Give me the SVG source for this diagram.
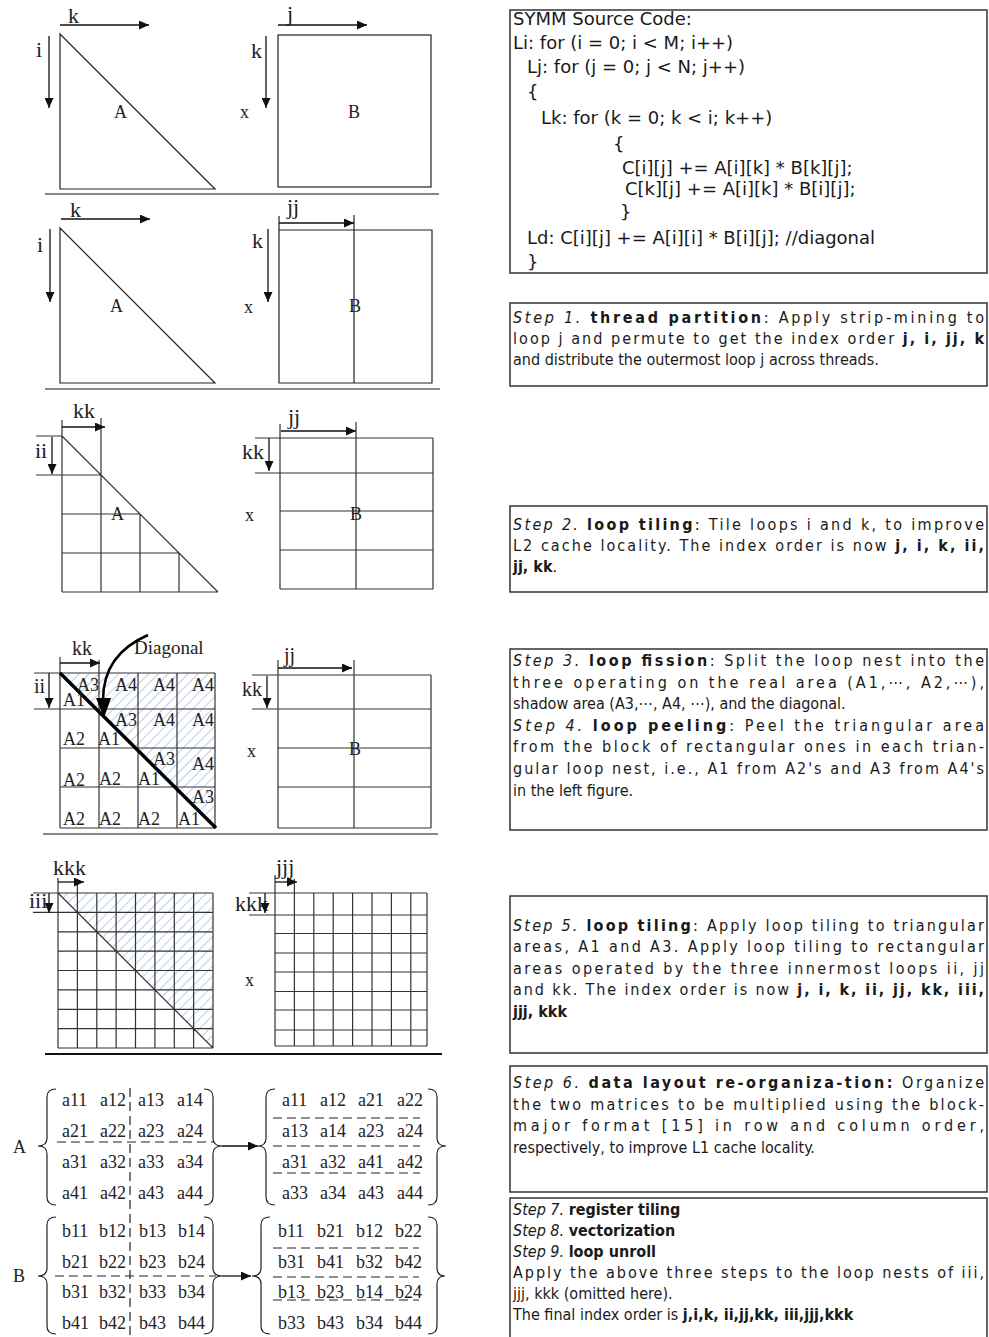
<svg xmlns="http://www.w3.org/2000/svg" width="989" height="1337" viewBox="0 0 989 1337">
<defs>
<style>
.s{font-family:"Liberation Serif","Times New Roman",serif;fill:#222}
.ax{font-size:22px}
.lb{font-size:18px}
.m{font-size:18px}
.ln{fill:none;stroke:#222;stroke-width:1.2}
.gl{fill:none;stroke:#333;stroke-width:1.2}
.sep{stroke:#888;stroke-width:2}
.ar{fill:none;stroke:#111;stroke-width:1.3}
.dash{fill:none;stroke:#222;stroke-width:1.2;stroke-dasharray:9 5}
.br{fill:none;stroke:#222;stroke-width:1.2}
.box{fill:#fff;stroke:#333;stroke-width:1.5}
.t{font-family:"DejaVu Sans Condensed","DejaVu Sans",sans-serif;font-size:16px;fill:#1a1a1a}
.c{font-family:"DejaVu Sans","Verdana",sans-serif;font-size:18px;fill:#1a1a1a}
.i{font-style:italic}
.b{font-weight:bold}
</style>
<marker id="ah" viewBox="0 0 10 9" refX="10" refY="4.5" markerWidth="10" markerHeight="9" markerUnits="userSpaceOnUse" orient="auto"><path d="M0,0 L10,4.5 L0,9 z" fill="#111"/></marker>
<pattern id="hatch" patternUnits="userSpaceOnUse" width="7" height="7" patternTransform="rotate(45)"><line x1="0" y1="0" x2="0" y2="7" stroke="#aac2e6" stroke-width="1.6"/></pattern>
</defs>
<rect width="989" height="1337" fill="#fff"/>

<!-- Panel 1 -->
<g id="p1">
<polygon class="ln" points="60,34 60,189 215,189"/>
<rect class="ln" x="278" y="35" width="153" height="152"/>
<text class="s ax" x="68" y="23">k</text>
<text class="s ax" x="36" y="57">i</text>
<text class="s ax" x="287" y="21">j</text>
<text class="s ax" x="251" y="58">k</text>
<text class="s lb" x="114" y="118">A</text>
<text class="s lb" x="240" y="118">x</text>
<text class="s lb" x="348" y="118">B</text>
</g>
<line class="sep" x1="45" y1="194" x2="439" y2="194"/>

<!-- Panel 2 -->
<g id="p2">
<polygon class="ln" points="60,228 60,383 215,383"/>
<path class="ln" d="M279,216V383H432V230H279 M354,215V383"/>
<text class="s ax" x="70" y="217">k</text>
<text class="s ax" x="37" y="252">i</text>
<text class="s ax" x="287" y="214">jj</text>
<text class="s ax" x="252" y="248">k</text>
<text class="s lb" x="110" y="312">A</text>
<text class="s lb" x="244" y="313">x</text>
<text class="s lb" x="349" y="312">B</text>
</g>
<line class="sep" x1="45" y1="389" x2="440" y2="389"/>

<!-- Panel 3 -->
<g id="p3">
<path class="gl" d="M62,420V592 M101,418V592 M140,514V592 M179,553V592 M36,436H62 M36,475H101 M62,514H140 M62,553H179 M62,592H218 M62,436L218,592"/>
<path class="gl" d="M280,424V589 M356,422V589 M433,438V589 M255,438H433 M255,473H433 M280,511H433 M280,550H433 M280,589H433"/>
<text class="s ax" x="73" y="418">kk</text>
<text class="s ax" x="35" y="458">ii</text>
<text class="s ax" x="288" y="424">jj</text>
<text class="s ax" x="242" y="459">kk</text>
<text class="s lb" x="111" y="520">A</text>
<text class="s lb" x="245" y="521">x</text>
<text class="s lb" x="350" y="520">B</text>
</g>

<!-- Panel 4 -->
<g id="p4">
<polygon points="60,673 215,673 215,828" fill="url(#hatch)"/>
<path class="gl" d="M60,657V828 M99,660V828 M138,673V828 M177,673V828 M215,673V828 M34,673H215 M34,709H215 M60,748H215 M60,787H215 M60,828H215"/>
<line x1="60" y1="673" x2="216" y2="828" stroke="#000" stroke-width="3.5"/>
<path class="gl" d="M278,660V828 M354,660V828 M431,675V828 M252,675H431 M252,709H431 M278,748H431 M278,787H431 M278,828H431"/>
<text class="s" font-size="20" x="72" y="655">kk</text>
<text class="s" font-size="20" x="34" y="693">ii</text>
<text class="s" font-size="19" x="134" y="654">Diagonal</text>
<text class="s" font-size="20" x="284" y="662">jj</text>
<text class="s" font-size="20" x="242" y="696">kk</text>
<text class="s lb" x="247" y="757">x</text>
<text class="s lb" x="349" y="755">B</text>
<g class="s lb">
<text x="77" y="691">A3</text><text x="63" y="706">A1</text><text x="115" y="691">A4</text><text x="153" y="691">A4</text><text x="192" y="691">A4</text>
<text x="115" y="726">A3</text><text x="153" y="726">A4</text><text x="192" y="726">A4</text><text x="63" y="745">A2</text><text x="98" y="745">A1</text>
<text x="153" y="765">A3</text><text x="192" y="770">A4</text><text x="63" y="786">A2</text><text x="99" y="785">A2</text><text x="138" y="785">A1</text>
<text x="192" y="803">A3</text><text x="63" y="825">A2</text><text x="99" y="825">A2</text><text x="138" y="825">A2</text><text x="178" y="825">A1</text>
</g>
</g>
<line class="sep" x1="43" y1="834" x2="438" y2="834"/>

<!-- Panel 5 -->
<g id="p5">
<polygon points="58,893 213,893 213,1048" fill="url(#hatch)"/>
<path class="gl" d="M58,878V1048 M77.4,880V1048 M96.8,893V1048 M116.1,893V1048 M135.5,893V1048 M154.9,893V1048 M174.3,893V1048 M193.6,893V1048 M213,893V1048 M33,893H213 M33,912.4H213 M58,931.8H213 M58,951.1H213 M58,970.5H213 M58,989.9H213 M58,1009.3H213 M58,1028.6H213 M58,1048H213 M58,893L213,1048"/>
<path class="gl" d="M275,875V1046 M294.4,879V1046 M313.8,893V1046 M333.2,893V1046 M352.6,893V1046 M372,893V1046 M391.4,893V1046 M410.8,893V1046 M427,893V1046 M249,893H427 M249,915H427 M275,933.5H427 M275,953H427 M275,972H427 M275,991.5H427 M275,1010H427 M275,1030H427 M275,1046H427"/>
<text class="s ax" x="53" y="875">kkk</text>
<text class="s ax" x="29" y="908">iii</text>
<text class="s ax" x="276" y="874">jjj</text>
<text class="s ax" x="235" y="911">kkk</text>
<text class="s lb" x="245" y="986">x</text>
</g>
<line x1="45" y1="1054" x2="442" y2="1054" stroke="#111" stroke-width="2"/>

<!-- Matrix A -->
<g id="matA">
<text class="s m" x="13" y="1153">A</text>
<path class="br" d="M56,1089 Q47,1089 47,1097 L47,1138 Q47,1146 38,1146 Q47,1146 47,1154 L47,1197 Q47,1205 56,1205"/>
<path class="br" d="M204,1089 Q213,1089 213,1097 L213,1138 Q213,1146 222,1146 Q213,1146 213,1154 L213,1197 Q213,1205 204,1205"/>
<path class="br" d="M275,1089 Q266,1089 266,1097 L266,1138 Q266,1146 258,1146 Q266,1146 266,1154 L266,1197 Q266,1205 275,1205"/>
<path class="br" d="M428,1089 Q437,1089 437,1097 L437,1138 Q437,1146 446,1146 Q437,1146 437,1154 L437,1197 Q437,1205 428,1205"/>
<path class="dash" d="M57,1142H213 M273,1118H420 M273,1146H420 M273,1173H420"/>
<g class="s m">
<text x="62" y="1106">a11</text><text x="100" y="1106">a12</text><text x="138" y="1106">a13</text><text x="177" y="1106">a14</text>
<text x="62" y="1137">a21</text><text x="100" y="1137">a22</text><text x="138" y="1137">a23</text><text x="177" y="1137">a24</text>
<text x="62" y="1168">a31</text><text x="100" y="1168">a32</text><text x="138" y="1168">a33</text><text x="177" y="1168">a34</text>
<text x="62" y="1199">a41</text><text x="100" y="1199">a42</text><text x="138" y="1199">a43</text><text x="177" y="1199">a44</text>
<text x="282" y="1106">a11</text><text x="320" y="1106">a12</text><text x="358" y="1106">a21</text><text x="397" y="1106">a22</text>
<text x="282" y="1137">a13</text><text x="320" y="1137">a14</text><text x="358" y="1137">a23</text><text x="397" y="1137">a24</text>
<text x="282" y="1168">a31</text><text x="320" y="1168">a32</text><text x="358" y="1168">a41</text><text x="397" y="1168">a42</text>
<text x="282" y="1199">a33</text><text x="320" y="1199">a34</text><text x="358" y="1199">a43</text><text x="397" y="1199">a44</text>
</g>
</g>

<!-- Matrix B -->
<g id="matB">
<text class="s m" x="13" y="1282">B</text>
<path class="br" d="M56,1217 Q47,1217 47,1225 L47,1268 Q47,1276 38,1276 Q47,1276 47,1284 L47,1326 Q47,1334 56,1334"/>
<path class="br" d="M204,1217 Q213,1217 213,1225 L213,1268 Q213,1276 222,1276 Q213,1276 213,1284 L213,1326 Q213,1334 204,1334"/>
<path class="br" d="M270,1217 Q261,1217 261,1225 L261,1268 Q261,1276 252,1276 Q261,1276 261,1284 L261,1326 Q261,1334 270,1334"/>
<path class="br" d="M428,1217 Q437,1217 437,1225 L437,1268 Q437,1276 445,1276 Q437,1276 437,1284 L437,1326 Q437,1334 428,1334"/>
<path class="dash" d="M55,1276H216 M273,1248H419 M273,1277H419 M273,1300H419"/>
<g class="s m">
<text x="62" y="1237">b11</text><text x="99" y="1237">b12</text><text x="139" y="1237">b13</text><text x="178" y="1237">b14</text>
<text x="62" y="1268">b21</text><text x="99" y="1268">b22</text><text x="139" y="1268">b23</text><text x="178" y="1268">b24</text>
<text x="62" y="1298">b31</text><text x="99" y="1298">b32</text><text x="139" y="1298">b33</text><text x="178" y="1298">b34</text>
<text x="62" y="1329">b41</text><text x="99" y="1329">b42</text><text x="139" y="1329">b43</text><text x="178" y="1329">b44</text>
<text x="278" y="1237">b11</text><text x="317" y="1237">b21</text><text x="356" y="1237">b12</text><text x="395" y="1237">b22</text>
<text x="278" y="1268">b31</text><text x="317" y="1268">b41</text><text x="356" y="1268">b32</text><text x="395" y="1268">b42</text>
<text x="278" y="1298">b13</text><text x="317" y="1298">b23</text><text x="356" y="1298">b14</text><text x="395" y="1298">b24</text>
<text x="278" y="1329">b33</text><text x="317" y="1329">b43</text><text x="356" y="1329">b34</text><text x="395" y="1329">b44</text>
</g>
</g>
<path class="dash" d="M130,1088V1336"/>

<!-- Connectors -->
<g id="connectors">
<path class="ar" marker-end="url(#ah)" d="M60,25H149"/>
<path class="ar" marker-end="url(#ah)" d="M49,36V108"/>
<path class="ar" marker-end="url(#ah)" d="M278,25H367"/>
<path class="ar" marker-end="url(#ah)" d="M266,36V108"/>
<path class="ar" marker-end="url(#ah)" d="M61,219H150"/>
<path class="ar" marker-end="url(#ah)" d="M50,229V302"/>
<path class="ar" marker-end="url(#ah)" d="M279,223H354"/>
<path class="ar" marker-end="url(#ah)" d="M268,229V302"/>
<path class="ar" marker-end="url(#ah)" d="M62,427H105"/>
<path class="ar" marker-end="url(#ah)" d="M52,437V474"/>
<path class="ar" marker-end="url(#ah)" d="M281,431H356"/>
<path class="ar" marker-end="url(#ah)" d="M269,438V471"/>
<path class="ar" marker-end="url(#ah)" d="M60,663H100"/>
<path class="ar" marker-end="url(#ah)" d="M49,673V708"/>
<path class="ar" marker-end="url(#ah)" d="M278,668H352"/>
<path class="ar" marker-end="url(#ah)" d="M267,676V708"/>
<path fill="none" stroke="#000" stroke-width="2.5" d="M148,635 C118,648 103,670 103,700"/>
<polygon points="96,698 111,698 104,718" fill="#000"/>
<path class="ar" marker-end="url(#ah)" d="M58,882H84"/>
<path class="ar" marker-end="url(#ah)" d="M49,893V913"/>
<path class="ar" marker-end="url(#ah)" d="M275,882H297"/>
<path class="ar" marker-end="url(#ah)" d="M265,893V913"/>
<path class="ar" marker-end="url(#ah)" d="M222,1146H258"/>
<path class="ar" marker-end="url(#ah)" d="M222,1276H251"/>
</g>

<!-- Right column -->
<g id="code">
<rect class="box" x="510" y="10" width="477" height="263"/>
<g class="c">
<text x="513" y="25">SYMM Source Code:</text>
<text x="513" y="49">Li: for (i = 0; i &lt; M; i++)</text>
<text x="527" y="73">Lj: for (j = 0; j &lt; N; j++)</text>
<text x="527" y="98">{</text>
<text x="541" y="124">Lk: for (k = 0; k &lt; i; k++)</text>
<text x="613" y="150">{</text>
<text x="622" y="174">C[i][j] += A[i][k] * B[k][j];</text>
<text x="625" y="195">C[k][j] += A[i][k] * B[i][j];</text>
<text x="620" y="218">}</text>
<text x="527" y="244">Ld: C[i][j] += A[i][i] * B[i][j]; //diagonal</text>
<text x="527" y="268">}</text>
</g>
</g>

<g id="step1">
<rect class="box" x="510" y="303" width="477" height="83"/>
<g class="t">
<text x="513" y="323" textLength="471" lengthAdjust="spacing"><tspan class="i">Step 1.</tspan> <tspan class="b">thread partition</tspan>: Apply strip-mining to</text>
<text x="513" y="344" textLength="471" lengthAdjust="spacing">loop j and permute to get the index order <tspan class="b">j, i, jj, k</tspan></text>
<text x="513" y="365">and distribute the outermost loop j across threads.</text>
</g>
</g>

<g id="step2">
<rect class="box" x="510" y="506" width="477" height="86"/>
<g class="t">
<text x="513" y="530" textLength="471" lengthAdjust="spacing"><tspan class="i">Step 2.</tspan> <tspan class="b">loop tiling</tspan>: Tile loops i and k, to improve</text>
<text x="513" y="551" textLength="471" lengthAdjust="spacing">L2 cache locality. The index order is now <tspan class="b">j, i, k, ii,</tspan></text>
<text x="513" y="572"><tspan class="b">jj, kk</tspan>.</text>
</g>
</g>

<g id="step3">
<rect class="box" x="510" y="649" width="477" height="181"/>
<g class="t">
<text x="513" y="666" textLength="471" lengthAdjust="spacing"><tspan class="i">Step 3.</tspan> <tspan class="b">loop fission</tspan>: Split the loop nest into the</text>
<text x="513" y="688" textLength="471" lengthAdjust="spacing">three operating on the real area (A1,⋯, A2,⋯),</text>
<text x="513" y="709">shadow area (A3,⋯, A4, ⋯), and the diagonal.</text>
<text x="513" y="731" textLength="471" lengthAdjust="spacing"><tspan class="i">Step 4.</tspan> <tspan class="b">loop peeling</tspan>: Peel the triangular area</text>
<text x="513" y="752" textLength="471" lengthAdjust="spacing">from the block of rectangular ones in each trian-</text>
<text x="513" y="774" textLength="471" lengthAdjust="spacing">gular loop nest, i.e., A1 from A2's and A3 from A4's</text>
<text x="513" y="796">in the left figure.</text>
</g>
</g>

<g id="step5">
<rect class="box" x="510" y="896" width="477" height="157"/>
<g class="t">
<text x="513" y="931" textLength="471" lengthAdjust="spacing"><tspan class="i">Step 5.</tspan> <tspan class="b">loop tiling</tspan>: Apply loop tiling to triangular</text>
<text x="513" y="952" textLength="471" lengthAdjust="spacing">areas, A1 and A3. Apply loop tiling to rectangular</text>
<text x="513" y="974" textLength="471" lengthAdjust="spacing">areas operated by the three innermost loops ii, jj</text>
<text x="513" y="995" textLength="471" lengthAdjust="spacing">and kk. The index order is now <tspan class="b">j, i, k, ii, jj, kk, iii,</tspan></text>
<text x="513" y="1017"><tspan class="b">jjj, kkk</tspan></text>
</g>
</g>

<g id="step6">
<rect class="box" x="510" y="1066" width="477" height="126"/>
<g class="t">
<text x="513" y="1088" textLength="471" lengthAdjust="spacing"><tspan class="i">Step 6.</tspan> <tspan class="b">data layout re-organiza-tion:</tspan> Organize</text>
<text x="513" y="1110" textLength="471" lengthAdjust="spacing">the two matrices to be multiplied using the block-</text>
<text x="513" y="1131" textLength="471" lengthAdjust="spacing">major format [15] in row and column order,</text>
<text x="513" y="1153">respectively, to improve L1 cache locality.</text>
</g>
</g>

<g id="step7">
<rect class="box" x="510" y="1198" width="477" height="142"/>
<g class="t">
<text x="513" y="1215"><tspan class="i">Step 7.</tspan> <tspan class="b">register tiling</tspan></text>
<text x="513" y="1236"><tspan class="i">Step 8.</tspan> <tspan class="b">vectorization</tspan></text>
<text x="513" y="1257"><tspan class="i">Step 9.</tspan> <tspan class="b">loop unroll</tspan></text>
<text x="513" y="1278" textLength="471" lengthAdjust="spacing">Apply the above three steps to the loop nests of iii,</text>
<text x="513" y="1299">jjj, kkk (omitted here).</text>
<text x="513" y="1320">The final index order is <tspan class="b">j,i,k, ii,jj,kk, iii,jjj,kkk</tspan></text>
</g>
</g>
</svg>
